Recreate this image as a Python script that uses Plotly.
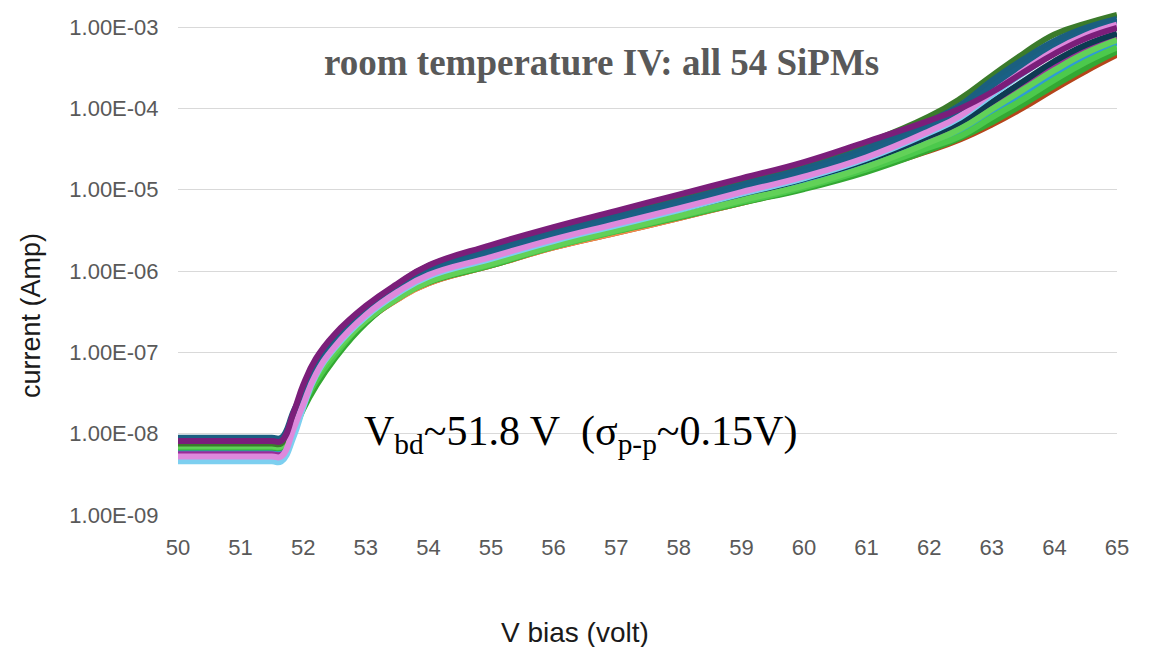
import plotly.graph_objects as go

# Bias voltage grid (volt)
V_bias = [50.0, 51.0, 51.5, 51.65, 51.85, 52.0, 52.2, 52.5, 53.0, 53.5, 54.0, 55.0, 56.0,
          57.0, 58.0, 59.0, 60.0, 61.0, 62.0, 62.5, 63.0, 63.5, 64.0, 64.5, 65.0]

# Representative SiPM IV curves (current in Amp)
I_red = [6.17e-9, 6.17e-9, 6.17e-9, 6.17e-9, 1.26e-8, 2.40e-8, 3.98e-8, 8.71e-8, 2.34e-7, 4.47e-7, 7.08e-7, 1.17e-6, 1.95e-6,
         2.95e-6, 4.47e-6, 6.92e-6, 1.05e-5, 1.74e-5, 3.02e-5, 4.17e-5, 6.31e-5, 1.02e-4, 1.74e-4, 2.88e-4, 4.57e-4]
I_orange = [6.31e-9, 6.31e-9, 6.31e-9, 6.31e-9, 1.26e-8, 2.40e-8, 4.37e-8, 9.33e-8, 2.40e-7, 4.47e-7, 7.08e-7, 1.17e-6, 1.95e-6,
            2.95e-6, 4.47e-6, 6.92e-6, 1.05e-5, 1.74e-5, 3.24e-5, 4.57e-5, 7.24e-5, 1.20e-4, 2.04e-4, 3.39e-4, 5.25e-4]
I_magenta = [6.03e-9, 6.03e-9, 6.03e-9, 6.03e-9, 1.32e-8, 2.51e-8, 5.37e-8, 1.12e-7, 2.69e-7, 5.01e-7, 7.94e-7, 1.35e-6, 2.24e-6,
             3.47e-6, 5.37e-6, 8.32e-6, 1.29e-5, 2.19e-5, 4.37e-5, 6.46e-5, 1.10e-4, 1.86e-4, 3.24e-4, 5.25e-4, 7.59e-4]
I_blue = [6.61e-9, 6.61e-9, 6.61e-9, 6.61e-9, 1.38e-8, 2.57e-8, 5.25e-8, 1.07e-7, 2.57e-7, 4.79e-7, 7.59e-7, 1.29e-6, 2.14e-6,
          3.31e-6, 5.01e-6, 7.76e-6, 1.20e-5, 2.00e-5, 3.80e-5, 5.37e-5, 8.91e-5, 1.51e-4, 2.63e-4, 4.27e-4, 6.31e-4]
I_navy = [7.94e-9, 7.94e-9, 7.94e-9, 7.94e-9, 1.74e-8, 3.02e-8, 5.75e-8, 1.17e-7, 2.75e-7, 5.13e-7, 8.13e-7, 1.38e-6, 2.29e-6,
          3.55e-6, 5.50e-6, 8.51e-6, 1.35e-5, 2.29e-5, 4.57e-5, 6.76e-5, 1.20e-4, 2.14e-4, 3.80e-4, 6.03e-4, 8.32e-4]
I_green = [6.76e-9, 6.76e-9, 6.76e-9, 6.76e-9, 1.10e-8, 2.00e-8, 3.80e-8, 8.32e-8, 2.29e-7, 4.57e-7, 7.24e-7, 1.17e-6, 2.00e-6,
           3.09e-6, 4.57e-6, 6.92e-6, 1.02e-5, 1.66e-5, 3.09e-5, 4.37e-5, 6.76e-5, 1.12e-4, 1.91e-4, 3.16e-4, 5.01e-4]
I_green2 = [6.92e-9, 6.92e-9, 6.92e-9, 6.92e-9, 1.32e-8, 2.29e-8, 4.37e-8, 9.12e-8, 2.51e-7, 4.68e-7, 7.41e-7, 1.20e-6, 2.00e-6,
            3.09e-6, 4.68e-6, 7.08e-6, 1.07e-5, 1.78e-5, 3.31e-5, 4.57e-5, 7.76e-5, 1.29e-4, 2.24e-4, 3.72e-4, 5.62e-4]
I_lightgreen = [7.08e-9, 7.08e-9, 7.08e-9, 7.08e-9, 1.45e-8, 2.57e-8, 5.01e-8, 1.02e-7, 2.45e-7, 4.57e-7, 7.41e-7, 1.23e-6, 2.04e-6,
                3.16e-6, 4.79e-6, 7.41e-6, 1.12e-5, 1.91e-5, 3.80e-5, 5.62e-5, 9.77e-5, 1.70e-4, 2.95e-4, 4.79e-4, 6.92e-4]
I_darkgreen = [7.59e-9, 7.59e-9, 7.59e-9, 7.59e-9, 1.66e-8, 3.02e-8, 6.31e-8, 1.35e-7, 3.31e-7, 6.76e-7, 1.15e-6, 2.00e-6, 3.24e-6,
               5.13e-6, 8.13e-6, 1.29e-5, 2.04e-5, 3.72e-5, 7.94e-5, 1.32e-4, 2.51e-4, 4.68e-4, 8.13e-4, 1.10e-3, 1.41e-3]
I_teal1 = [8.91e-9, 8.91e-9, 8.91e-9, 8.91e-9, 1.91e-8, 3.39e-8, 7.24e-8, 1.48e-7, 3.24e-7, 6.46e-7, 1.07e-6, 1.82e-6, 2.95e-6,
           4.68e-6, 7.24e-6, 1.15e-5, 1.82e-5, 3.24e-5, 6.92e-5, 1.10e-4, 2.19e-4, 3.98e-4, 6.76e-4, 9.77e-4, 1.26e-3]
I_teal2 = [8.51e-9, 8.51e-9, 8.51e-9, 8.51e-9, 1.78e-8, 3.16e-8, 6.03e-8, 1.26e-7, 3.02e-7, 5.89e-7, 9.77e-7, 1.66e-6, 2.75e-6,
           4.27e-6, 6.61e-6, 1.05e-5, 1.66e-5, 2.88e-5, 5.89e-5, 9.33e-5, 1.86e-4, 3.39e-4, 5.75e-4, 8.51e-4, 1.15e-3]
I_lightblue = [4.57e-9, 4.57e-9, 4.57e-9, 4.57e-9, 9.33e-9, 2.09e-8, 5.13e-8, 1.12e-7, 2.75e-7, 5.25e-7, 8.51e-7, 1.41e-6, 2.34e-6,
               3.63e-6, 5.62e-6, 8.91e-6, 1.38e-5, 2.40e-5, 5.01e-5, 7.76e-5, 1.45e-4, 2.69e-4, 4.79e-4, 7.41e-4, 1.00e-3]
I_pink = [5.25e-9, 5.25e-9, 5.25e-9, 5.25e-9, 1.17e-8, 2.29e-8, 5.37e-8, 1.17e-7, 2.88e-7, 5.50e-7, 8.91e-7, 1.48e-6, 2.45e-6,
          3.80e-6, 5.89e-6, 9.33e-6, 1.45e-5, 2.51e-5, 5.25e-5, 8.13e-5, 1.55e-4, 2.88e-4, 5.13e-4, 7.94e-4, 1.07e-3]
I_purple = [8.13e-9, 8.13e-9, 8.13e-9, 8.13e-9, 1.86e-8, 3.98e-8, 8.32e-8, 1.66e-7, 3.72e-7, 6.92e-7, 1.17e-6, 2.09e-6, 3.47e-6,
            5.50e-6, 8.71e-6, 1.38e-5, 2.19e-5, 3.89e-5, 7.08e-5, 1.00e-4, 1.58e-4, 2.75e-4, 4.68e-4, 7.24e-4, 9.77e-4]

series = [I_red, I_orange, I_magenta, I_blue, I_navy, I_green, I_green2, I_lightgreen,
          I_darkgreen, I_teal1, I_teal2, I_lightblue, I_pink, I_purple]
colors = ["#B5451B", "#F08D4C", "#9A2C98", "#2E9BD5", "#0D3A52", "#33A833", "#4CC94C", "#62D158",
          "#3B7B2B", "#1B5F80", "#1A6085", "#7DCFF0", "#DE89DC", "#7B1E7A"]

y_tickvals = [1e-9, 1e-8, 1e-7, 1e-6, 1e-5, 1e-4, 1e-3]
y_ticktext = ["1.00E-09", "1.00E-08", "1.00E-07", "1.00E-06", "1.00E-05", "1.00E-04", "1.00E-03"]
x_tickvals = list(range(50, 66))

fig = go.Figure()
for ys, c in zip(series, colors):
    fig.add_trace(go.Scatter(x=V_bias, y=ys, mode="lines",
                             line=dict(color=c, width=6, shape="spline", smoothing=1.3),
                             showlegend=False, hoverinfo="skip"))

sans = "Liberation Sans, Arial, sans-serif"
serif = "Liberation Serif, Times New Roman, serif"
tick_font = dict(family=sans, size=22, color="#595959")

fig.update_layout(
    width=1153, height=647,
    margin=dict(l=178, r=36, t=10, b=132),
    paper_bgcolor="white", plot_bgcolor="white",
    xaxis=dict(range=[50, 65], tickvals=x_tickvals, showgrid=False, zeroline=False,
               showline=False, ticks="outside", ticklen=13, tickcolor="rgba(0,0,0,0)",
               tickfont=tick_font),
    yaxis=dict(type="log", range=[-9, -2.79], tickvals=y_tickvals, ticktext=y_ticktext,
               showgrid=True, gridcolor="#D9D9D9", gridwidth=1.3, zeroline=False, showline=False,
               ticks="outside", ticklen=14, tickcolor="rgba(0,0,0,0)", tickfont=tick_font),
)

# axis titles
fig.add_annotation(text="V bias (volt)", xref="paper", yref="paper", x=0.423, y=-0.232,
                   xanchor="center", yanchor="middle", showarrow=False,
                   font=dict(family=sans, size=28, color="#1a1a1a"))
fig.add_annotation(text="current (Amp)", xref="paper", yref="paper", x=-0.157, y=0.395,
                   xanchor="center", yanchor="middle", showarrow=False, textangle=-90,
                   font=dict(family=sans, size=27, color="#1a1a1a"))

fig.add_annotation(text="<b>room temperature IV: all 54 SiPMs</b>", xref="paper", yref="paper",
                   x=0.4505, y=0.897, xanchor="center", yanchor="middle", showarrow=False,
                   font=dict(family=serif, size=37, color="#595959"))
fig.add_annotation(text="V<sub>bd</sub>~51.8 V&nbsp;&nbsp;(σ<sub>p-p</sub>~0.15V)", xref="paper", yref="paper",
                   x=0.196, y=0.16, xanchor="left", yanchor="middle", showarrow=False,
                   font=dict(family=serif, size=42, color="black"))

fig.write_html("out.html")
